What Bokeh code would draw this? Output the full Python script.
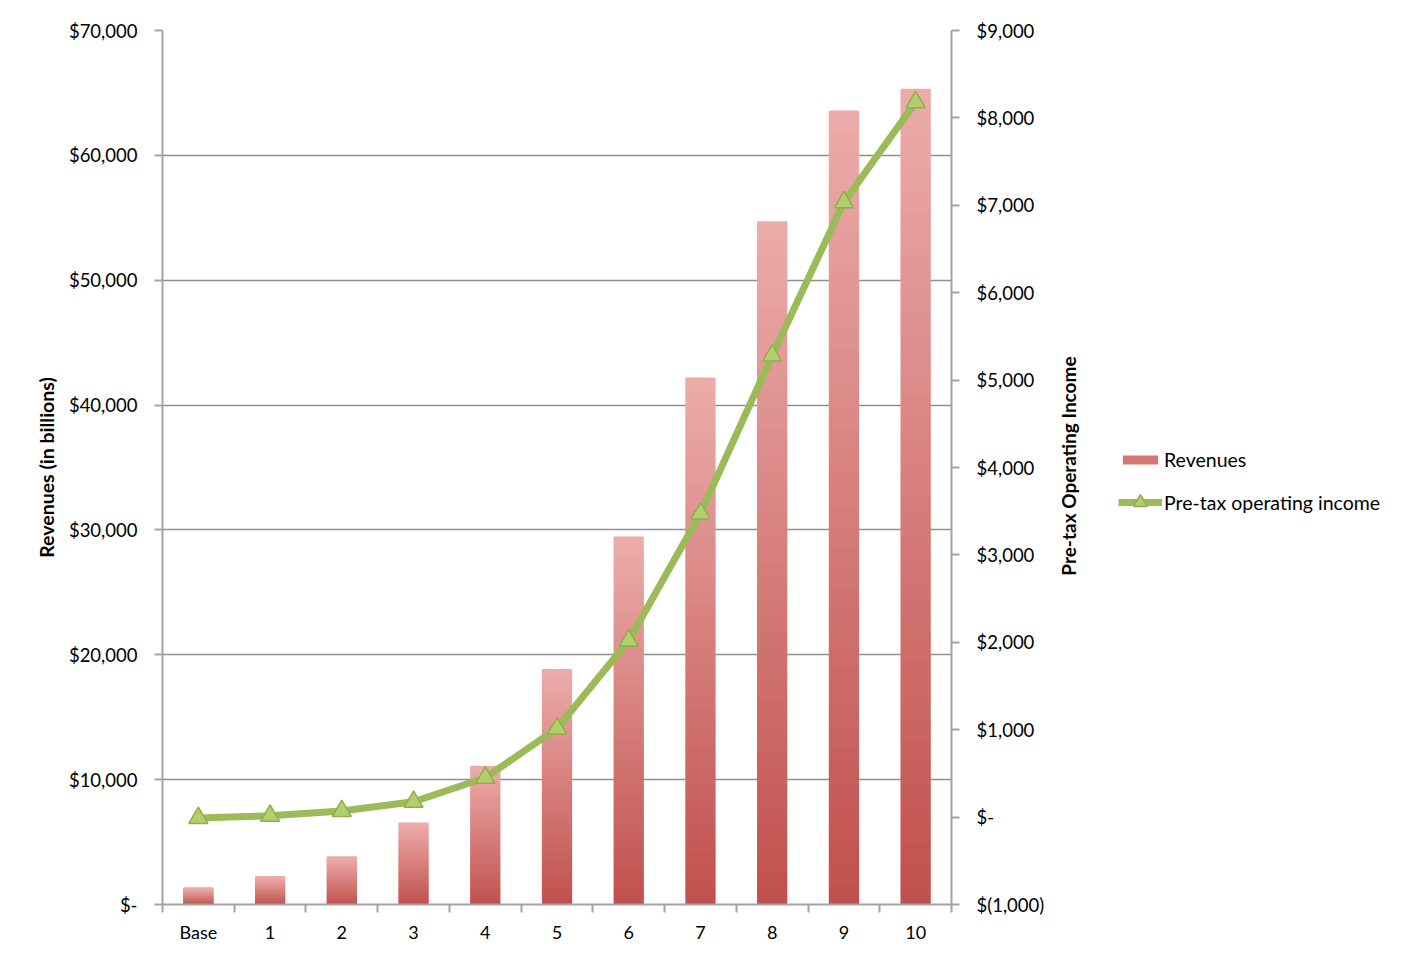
import math
from bokeh.plotting import figure
from bokeh.layouts import row
from bokeh.models import (Range1d, LinearAxis, FixedTicker, Legend, LegendItem,
                          ColumnDataSource, NumeralTickFormatter, Label)
from bokeh.embed import file_html
from bokeh.resources import INLINE

categories = ["Base", "1", "2", "3", "4", "5", "6", "7", "8", "9", "10"]
revenues = [1310, 2210, 3800, 6500, 11040, 18800, 29410, 42140, 54650, 63530, 65280]
pretax_income = [-10, 15, 70, 175, 450, 1014, 2020, 3474, 5281, 7036, 8180]

FONT = "Lato"
AX = "#a3a3a3"
LINE_C = "#9bbb59"
TRI_FILL = "#b3cf6c"
TRI_LINE = "#8fae4f"

p = figure(frame_width=789, frame_height=874, output_backend="svg", toolbar_location=None,
           x_range=Range1d(0, len(categories)), y_range=Range1d(0, 70000),
           min_border_left=162, min_border_top=30, min_border_right=104,
           min_border_bottom=40)
p.outline_line_color = None
p.background_fill_color = "white"
p.border_fill_color = "white"
p.extra_y_ranges = {"pti": Range1d(-1000, 9000)}

# gradient bars built from revenue values (slices of each bar)
N = 40
top_c = (236, 172, 170)
bot_c = (192, 80, 77)
xs, bots, tops, cols = [], [], [], []
for i, v in enumerate(revenues):
    for k in range(N):
        t = (k + 0.5) / N
        c = tuple(int(round(bot_c[j] + (top_c[j] - bot_c[j]) * t)) for j in range(3))
        xs.append(i + 0.5)
        bots.append(v * k / N)
        tops.append(v * (k + 1) / N)
        cols.append("#%02x%02x%02x" % c)
src = ColumnDataSource(dict(x=xs, bottom=bots, top=tops, color=cols))
p.vbar(x="x", bottom="bottom", top="top", width=0.4, source=src,
       fill_color="color", line_color="color", line_width=1.6)

# line
lx = [i + 0.5 for i in range(len(categories))]
p.line(lx, pretax_income, y_range_name="pti", line_color=LINE_C,
       line_width=7, line_join="round")
p.scatter(lx, pretax_income, y_range_name="pti", marker="triangle",
          size=19, fill_color=TRI_FILL, line_color=TRI_LINE, line_width=1.5)

# axes
xa = p.xaxis[0]
xa.ticker = FixedTicker(ticks=lx, minor_ticks=list(range(len(categories) + 1)))
xa.major_label_overrides = {x: c for x, c in zip(lx, categories)}
xa.major_tick_out = 0
xa.major_tick_in = 0
xa.minor_tick_out = 8
xa.minor_tick_in = 0
xa.minor_tick_line_color = AX
xa.minor_tick_line_width = 2
xa.axis_line_color = AX
xa.axis_line_width = 2
xa.major_label_text_font = FONT
xa.major_label_text_font_size = "18px"
xa.major_label_text_color = "black"
xa.major_label_standoff = 8

ya = p.yaxis[0]
ya.ticker = FixedTicker(ticks=list(range(0, 70001, 10000)))
ya.formatter = NumeralTickFormatter(format="$0,0")
ya.major_label_overrides = {0: "$-"}
ya.axis_label = "Revenues (in billions)"
ya.axis_label_text_font = FONT
ya.axis_label_text_font_size = "19.5px"
ya.axis_label_text_font_style = "bold"
ya.axis_label_text_color = "black"
ya.axis_label_standoff = 8

yr = LinearAxis(y_range_name="pti", ticker=FixedTicker(ticks=list(range(-1000, 9001, 1000))),
                formatter=NumeralTickFormatter(format="$0,0"),
                major_label_overrides={0: "$-", -1000: "$(1,000)"})
p.add_layout(yr, "right")

for a in (ya, yr):
    a.axis_line_color = AX
    a.axis_line_width = 2
    a.major_tick_line_color = AX
    a.major_tick_line_width = 2
    a.major_tick_out = 8
    a.major_tick_in = 0
    a.minor_tick_line_color = None
    a.major_label_text_font = FONT
    a.major_label_text_font_size = "18.5px"
    a.major_label_text_color = "black"
    a.major_label_standoff = 17

p.xgrid.visible = False
p.ygrid.ticker = FixedTicker(ticks=list(range(10000, 70001, 10000)))
p.ygrid.grid_line_color = "#8f8f8f"
p.ygrid.grid_line_width = 1.5

# side panel: right axis title + legend
SW = 1392 - (162 + 789 + 104)
SH = 944
s = figure(width=SW, height=SH, output_backend="svg", toolbar_location=None,
           x_range=Range1d(0, SW), y_range=Range1d(0, SH),
           x_axis_location=None, y_axis_location=None, min_border=0)
s.outline_line_color = None
s.xgrid.visible = False
s.ygrid.visible = False
s.background_fill_color = "white"
s.border_fill_color = "white"

s.add_layout(Label(x=13, y=SH - 471, text="Pre-tax Operating Income", angle=math.pi / 2,
                   text_align="center", text_baseline="middle", text_font=FONT,
                   text_font_size="19px", text_font_style="bold", text_color="black"))

# legend-only renderers (hidden; they carry the series styles for the legend)
r_bar = s.vbar(x=[0], top=[revenues[0]], width=1, fill_color="#d47673", line_color=None,
               visible=False)
r_line = s.line(x=[0, 1], y=pretax_income[:2], line_color=LINE_C, line_width=7, visible=False)
r_tri = s.scatter(x=[0], y=pretax_income[:1], marker="triangle", size=14, fill_color=TRI_FILL,
                  line_color=TRI_LINE, line_width=1.5, visible=False)

def style_legend(lg):
    lg.border_line_color = None
    lg.background_fill_alpha = 0
    lg.label_text_font = FONT
    lg.label_text_font_size = "19.5px"
    lg.label_text_color = "black"
    lg.glyph_width = 44
    lg.label_standoff = 2
    lg.padding = 0
    lg.margin = 0

GX = 1118 - 1055
leg1 = Legend(items=[LegendItem(label="Revenues", renderers=[r_bar])],
              location=(GX, SH - 460 - 11 - 41))
style_legend(leg1)
leg1.glyph_height = 11
leg1.label_height = 22
s.add_layout(leg1)

leg2 = Legend(items=[LegendItem(label="Pre-tax operating income", renderers=[r_line, r_tri])],
              location=(GX, SH - 502 - 17 - 41))
style_legend(leg2)
leg2.glyph_height = 34
leg2.label_height = 22
s.add_layout(leg2)

layout = row(p, s)
open("out.html", "w").write(file_html(layout, INLINE))
